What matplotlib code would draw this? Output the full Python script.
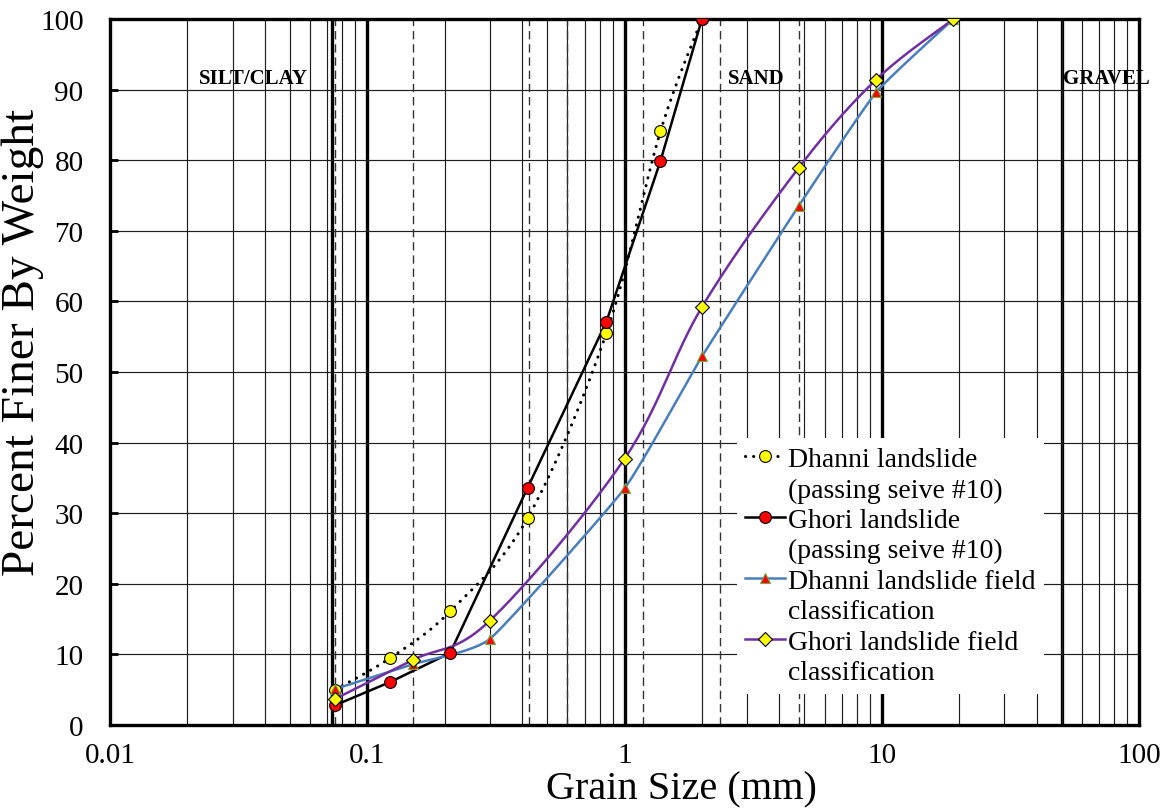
import numpy as np
import matplotlib
matplotlib.use('Agg')
import matplotlib.pyplot as plt
from matplotlib.lines import Line2D
from matplotlib.ticker import FixedLocator, FixedFormatter, NullLocator

# ---------------- data ----------------
dhanni_sieve_size = [0.075, 0.123, 0.21, 0.42, 0.85, 1.38, 2.0]
dhanni_sieve_pct = [5.0, 9.5, 16.1, 29.3, 55.5, 84.1, 100.0]
ghori_sieve_size = [0.075, 0.123, 0.21, 0.42, 0.85, 1.38, 2.0]
ghori_sieve_pct = [2.8, 6.1, 10.2, 33.6, 57.1, 79.9, 100.0]
field_size = [0.075, 0.15, 0.3, 1.0, 2.0, 4.75, 9.5, 19.0]
dhanni_field_pct = [5.1, 8.6, 12.2, 33.5, 52.2, 73.5, 89.6, 100.0]
ghori_field_pct = [3.7, 9.2, 14.8, 37.7, 59.2, 78.9, 91.4, 100.0]

x_ticks = [0.01, 0.1, 1, 10, 100]
x_tick_labels = ["0.01", "0.1", "1", "10", "100"]
y_ticks = list(range(0, 101, 10))
sieve_lines = [0.075, 0.15, 0.425, 0.6, 1.18, 2.36, 4.75]
boundary_lines = [0.0728, 0.1, 1, 10, 50]
zone_labels = ["SILT/CLAY", "SAND", "GRAVEL"]
zone_x = [0.0362, 3.26, 74.4]

legend_labels = ["Dhanni landslide", "(passing seive #10)",
                 "Ghori landslide", "(passing seive #10)",
                 "Dhanni landslide field", "classification",
                 "Ghori landslide field", "classification"]

SERIF = ["Liberation Serif", "DejaVu Serif"]
plt.rcParams['font.family'] = SERIF


def smooth(xs, ys, s=1.0, n=30):
    """Excel-like smoothed line (Bezier through points) in display-like units."""
    k = 257 / 7.06
    pts = np.column_stack([np.log10(xs) * k, np.asarray(ys, float)])
    P = np.vstack([pts[0], pts, pts[-1]])
    out = []
    for i in range(1, len(P) - 2):
        p0, p1, p2, p3 = P[i - 1], P[i], P[i + 1], P[i + 2]
        c1 = p1 + s * (p2 - p0) / 6
        c2 = p2 - s * (p3 - p1) / 6
        t = np.linspace(0, 1, n)[:, None]
        seg = (1 - t) ** 3 * p1 + 3 * (1 - t) ** 2 * t * c1 + 3 * (1 - t) * t ** 2 * c2 + t ** 3 * p2
        out.append(seg if i == 1 else seg[1:])
    out = np.vstack(out)
    return 10 ** (out[:, 0] / k), out[:, 1]


fig = plt.figure(figsize=(11.67, 8.12), dpi=100)
ax = fig.add_axes([110 / 1167, 86 / 812, 1029 / 1167, 706 / 812])
ax.set_xscale('log')
ax.set_xlim(0.01, 100)
ax.set_ylim(0, 100)

# grid
ax.xaxis.set_major_locator(FixedLocator(x_ticks))
ax.xaxis.set_major_formatter(FixedFormatter(x_tick_labels))
minor = [m * 10.0 ** e for e in range(-2, 2) for m in range(2, 10)]
ax.xaxis.set_minor_locator(FixedLocator(minor))
ax.yaxis.set_major_locator(FixedLocator(y_ticks))
ax.yaxis.set_minor_locator(NullLocator())
ax.grid(which='minor', axis='x', color='#1e1e1e', lw=0.85)
ax.grid(which='major', axis='y', color='#1e1e1e', lw=0.85)
for xv in boundary_lines:
    ax.axvline(xv, color='black', lw=2.4, zorder=1.5)
for xv in sieve_lines:
    ax.axvline(xv, color='#333333', lw=1.0, ls=(0, (6, 3.5)), zorder=1.6)

for s in ax.spines.values():
    s.set_linewidth(2.4)

ax.tick_params(axis='x', which='both', length=0, labelsize=21, pad=12)
ax.tick_params(axis='y', which='major', direction='in', length=6, width=2,
               labelsize=21, pad=19)

# series
xs, ys = smooth(dhanni_sieve_size, dhanni_sieve_pct)
ax.plot(xs, ys, color='black', lw=2.2, ls=(0, (0.05, 2.6)),
        dash_capstyle='round', zorder=3)
ax.plot(ghori_sieve_size, ghori_sieve_pct, color='black', lw=1.8, zorder=3)
xs, ys = smooth(field_size, dhanni_field_pct, s=0.45)
ax.plot(xs, ys, color='#4a7ebb', lw=1.8, zorder=3)
xs, ys = smooth(field_size, ghori_field_pct)
ax.plot(xs, ys, color='#7030a0', lw=1.8, zorder=3)

ax.plot(dhanni_sieve_size, dhanni_sieve_pct, ls='none', marker='o', ms=8.5,
        mfc='#ffff00', mec='black', mew=0.8, zorder=4)
ax.plot(ghori_sieve_size, ghori_sieve_pct, ls='none', marker='o', ms=8.5,
        mfc='#ff0000', mec='black', mew=0.8, zorder=4)
ax.plot(field_size, dhanni_field_pct, ls='none', marker='^', ms=7.5,
        mfc='#ff0000', mec='#70ad47', mew=0.8, zorder=4)
ax.plot(field_size, ghori_field_pct, ls='none', marker='D', ms=7.5,
        mfc='#ffff00', mec='black', mew=0.8, zorder=4)

# zone labels
for lab, xv in zip(zone_labels, zone_x):
    ax.text(xv, 90.9, lab, ha='center', va='baseline', fontsize=15,
            fontweight='bold', clip_on=False, zorder=5)

# legend
blank = Line2D([], [], ls='none')
h1 = Line2D([], [], color='black', lw=2.2, ls=(0, (0.05, 2.6)), dash_capstyle='round',
            marker='o', ms=8.5, mfc='#ffff00', mec='black', mew=0.8)
h2 = Line2D([], [], color='black', lw=1.8, marker='o', ms=8.5,
            mfc='#ff0000', mec='black', mew=0.8)
h3 = Line2D([], [], color='#4a7ebb', lw=1.8, marker='^', ms=7.5,
            mfc='#ff0000', mec='#70ad47', mew=0.8)
h4 = Line2D([], [], color='#7030a0', lw=1.8, marker='D', ms=7.5,
            mfc='#ffff00', mec='black', mew=0.8)
handles = [h1, blank, h2, blank, h3, blank, h4, blank]
leg = ax.legend(handles, legend_labels, loc='upper left',
                bbox_to_anchor=(0.609, 0.406), fontsize=20, frameon=True,
                facecolor='white', edgecolor='none', framealpha=1.0, fancybox=False,
                handlelength=1.45, handletextpad=0.1, labelspacing=0.18,
                borderpad=0.3, borderaxespad=0.0)
leg.set_zorder(6)

# axis labels
fig.text(681 / 1167, 1 - 790 / 812, "Grain Size (mm)", ha='center', va='center',
         fontsize=29)
fig.text(23 / 1167, 1 - 342 / 812, "Percent Finer By Weight", ha='center',
         va='center', rotation=90, fontsize=34)

fig.savefig('out.png', dpi=100)
